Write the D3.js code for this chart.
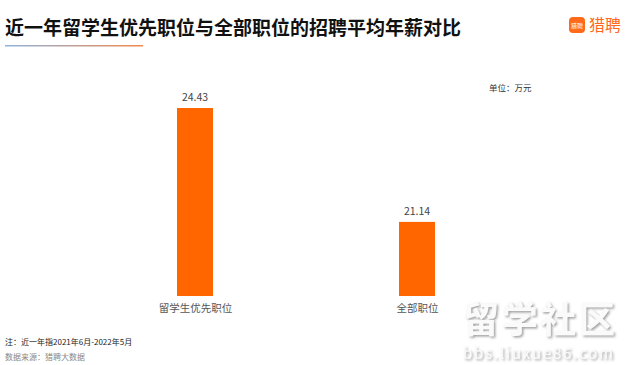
<!DOCTYPE html>
<html>
<head>
<meta charset="utf-8">
<script src="https://cdn.jsdelivr.net/npm/d3@7"></script>
<style>
body{margin:0;background:#fff}
text{font-family:"Noto Sans CJK SC","Noto Sans",sans-serif}
</style>
</head>
<body>
<svg id="chart" width="630" height="365"></svg>
<script>
// data
var categories = ["留学生优先职位", "全部职位"]
var salaries = [24.43, 21.14]

var svg = d3.select("#chart")

// title + gradient underline
var defs = svg.append("defs")
var grad = defs.append("linearGradient").attr("id", "titleLine")
grad.append("stop").attr("offset", "0").attr("stop-color", "#8fb4e0")
grad.append("stop").attr("offset", "1").attr("stop-color", "#f08a4b")

svg.append("text")
  .attr("x", 5).attr("y", 35)
  .attr("font-size", 19).attr("font-weight", "bold").attr("fill", "#111")
  .text("近一年留学生优先职位与全部职位的招聘平均年薪对比")

svg.append("rect")
  .attr("x", 5).attr("y", 45).attr("width", 138).attr("height", 1.5)
  .attr("fill", "url(#titleLine)")

// logo
svg.append("rect")
  .attr("x", 569).attr("y", 17).attr("width", 16).attr("height", 16)
  .attr("rx", 4).attr("fill", "#ff6a1a")
svg.append("text")
  .attr("x", 577).attr("y", 28).attr("text-anchor", "middle")
  .attr("font-size", 6).attr("fill", "#fff").text("猎聘")
svg.append("text")
  .attr("x", 589).attr("y", 31)
  .attr("font-size", 16).attr("fill", "#ff6a1a").text("猎聘")

// units
svg.append("text")
  .attr("x", 489).attr("y", 91)
  .attr("font-size", 8.5).attr("fill", "#333").text("单位：万元")

// scales
var x = d3.scalePoint().domain(categories).range([84, 528]).padding(0.5)
var y = d3.scaleLinear().domain([19, 24.43]).range([296, 108])
var barW = 36

svg.selectAll(".bar").data(salaries).enter().append("rect")
  .attr("class", "bar")
  .attr("x", function(d, i){ return x(categories[i]) - barW/2 })
  .attr("y", function(d){ return y(d) })
  .attr("width", barW)
  .attr("height", function(d){ return y.range()[0] - y(d) })
  .attr("fill", "#ff6600")

svg.selectAll(".val").data(salaries).enter().append("text")
  .attr("class", "val")
  .attr("x", function(d, i){ return x(categories[i]) })
  .attr("y", function(d){ return y(d) - 7 })
  .attr("text-anchor", "middle")
  .attr("font-size", 10.5).attr("fill", "#444")
  .text(function(d){ return d.toFixed(2) })

// category labels
var xAxis = svg.append("g")
  .attr("transform", "translate(0,296)")
  .call(d3.axisBottom(x).tickSize(0).tickPadding(9))
xAxis.select(".domain").remove()
xAxis.selectAll("text")
  .style("font-family", "'Noto Sans CJK SC',sans-serif")
  .attr("font-size", 10.5).attr("fill", "#555")

// footnotes
svg.append("text")
  .attr("x", 5).attr("y", 345)
  .attr("font-size", 8).attr("fill", "#222").text("注：近一年指2021年6月-2022年5月")
svg.append("text")
  .attr("x", 5).attr("y", 360)
  .attr("font-size", 8).attr("fill", "#888").text("数据来源：猎聘大数据")

// watermark
var wm = svg.append("g")
defs.append("filter").attr("id", "wmShadow")
  .append("feDropShadow").attr("dx", 1.5).attr("dy", 1.5).attr("stdDeviation", 1.2)
  .attr("flood-color", "#888").attr("flood-opacity", 0.8)
wm.append("text")
  .attr("x", 463).attr("y", 333)
  .attr("font-size", 36).attr("font-weight", "bold").attr("fill", "#fafafa")
  .attr("filter", "url(#wmShadow)").attr("textLength", 152)
  .text("留学社区")
wm.append("text")
  .attr("x", 463).attr("y", 359)
  .attr("font-size", 15).attr("fill", "#fafafa")
  .attr("filter", "url(#wmShadow)").attr("textLength", 150)
  .text("bbs.liuxue86.com")
</script>
</body>
</html>
